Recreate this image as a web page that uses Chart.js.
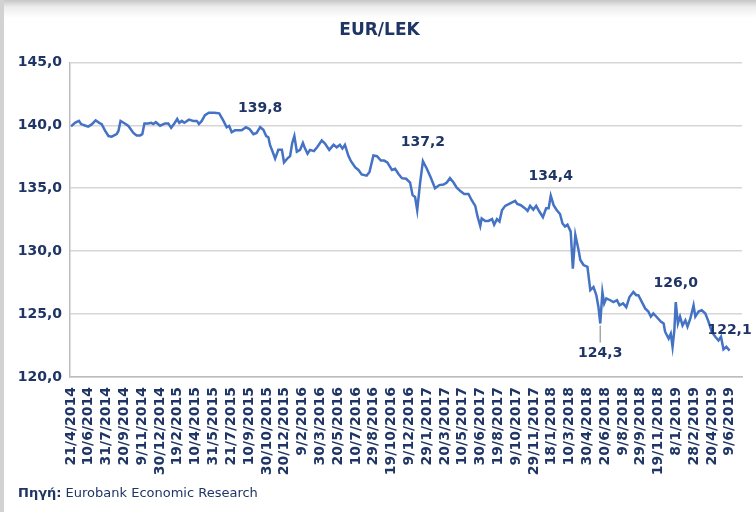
<!DOCTYPE html>
<html>
<head>
<meta charset="utf-8">
<title>EUR/LEK</title>
<script src="https://cdn.jsdelivr.net/npm/chart.js@4.4.1/dist/chart.umd.min.js"></script>
<style>
    html, body {
        margin: 0;
        padding: 0;
        width: 756px;
        height: 512px;
        overflow: hidden;
        background: linear-gradient(to bottom, #c6c6c6 0px, #ededed 7px, #ffffff 18px);
    }
    .frame {
        position: absolute;
        left: 0;
        top: 0;
        width: 756px;
        height: 512px;
        border-left: 4px solid #d2d2d2;
        box-sizing: border-box;
    }
    .chart-box {
        position: absolute;
        left: 0;
        top: 0;
        width: 756px;
        height: 512px;
    }
    .source {
        position: absolute;
        left: 18px;
        top: 485px;
        font-family: 'DejaVu Sans', Verdana, sans-serif;
        font-size: 13px;
        color: #1f3566;
    }
    .source b { font-weight: bold; }
</style>
</head>
<body>
<div class="frame"></div>
<div class="chart-box"><canvas id="eurLekChart"></canvas></div>
<div class="source"><b>Πηγή:</b> Eurobank Economic Research</div>

<script>
// ===== Data (days counted from 21/4/2014) =====
const days = [
    3, 14, 25, 31, 44, 51, 61, 72, 82, 89, 98, 108, 117, 131, 136, 142, 154, 164, 178, 187,
    197, 203, 209, 220, 228, 234, 241, 253, 267, 276, 284, 293, 301, 307, 314, 321, 334, 346, 356, 362,
    370, 379, 390, 405, 419, 431, 440, 447, 454, 463, 473, 482, 494, 504, 515, 524, 534, 543, 551, 557,
    562, 569, 576, 585, 595, 601, 610, 618, 624, 630, 637, 646, 654, 660, 667, 674, 685, 695, 707, 716,
    728, 740, 749, 758, 765, 772, 782, 789, 801, 810, 819, 833, 841, 852, 862, 873, 882, 891, 904, 913,
    922, 932, 944, 955, 962, 969, 975, 983, 991, 1002, 1013, 1025, 1037, 1049, 1058, 1067, 1077, 1086, 1097, 1107,
    1119, 1128, 1138, 1144, 1152, 1156, 1166, 1175, 1185, 1191, 1199, 1206, 1213, 1222, 1236, 1250, 1256, 1266, 1278, 1285,
    1292, 1301, 1309, 1318, 1328, 1337, 1344, 1350, 1358, 1367, 1376, 1383, 1390, 1397, 1406, 1412, 1419, 1428, 1433, 1442,
    1453, 1461, 1470, 1478, 1484, 1489, 1495, 1500, 1506, 1517, 1526, 1536, 1543, 1553, 1562, 1571, 1582, 1590, 1596, 1606,
    1615, 1624, 1631, 1638, 1648, 1659, 1667, 1671, 1681, 1687, 1692, 1697, 1701, 1707, 1713, 1720, 1728, 1734, 1742, 1751,
    1756, 1765, 1774, 1784, 1793, 1802, 1812, 1821, 1828, 1835, 1843, 1852
];

const eurLek = [
    139.92, 140.2, 140.35, 140.1, 139.97, 139.9, 140.07, 140.4, 140.2, 140.1, 139.6, 139.15, 139.1, 139.3, 139.55, 140.35, 140.15, 139.95, 139.4, 139.2,
    139.2, 139.3, 140.15, 140.15, 140.2, 140.1, 140.25, 139.97, 140.15, 140.15, 139.8, 140.15, 140.5, 140.2, 140.35, 140.2, 140.45, 140.35, 140.35, 140.1,
    140.35, 140.8, 141.0, 141.0, 140.95, 140.35, 139.85, 139.95, 139.45, 139.6, 139.6, 139.6, 139.85, 139.7, 139.3, 139.4, 139.85, 139.65, 139.15, 139.05,
    138.4, 137.9, 137.35, 138.05, 138.05, 137.05, 137.35, 137.55, 138.6, 139.15, 137.9, 138.05, 138.6, 138.15, 137.75, 138.05, 137.95, 138.3, 138.8, 138.55,
    138.05, 138.45, 138.25, 138.45, 138.15, 138.45, 137.55, 137.15, 136.65, 136.45, 136.1, 136.0, 136.3, 137.6, 137.55, 137.2, 137.2, 137.05, 136.45, 136.55,
    136.15, 135.8, 135.75, 135.45, 134.45, 134.3, 133.25, 135.4, 137.15, 136.55, 135.85, 135.0, 135.25, 135.3, 135.45, 135.8, 135.45, 135.05, 134.75, 134.55,
    134.55, 134.05, 133.6, 132.8, 132.0, 132.6, 132.4, 132.4, 132.55, 132.1, 132.55, 132.35, 133.25, 133.6, 133.8, 134.0, 133.75, 133.65, 133.4, 133.2,
    133.6, 133.3, 133.6, 133.15, 132.7, 133.4, 133.4, 134.4, 133.65, 133.25, 132.95, 132.2, 131.95, 132.1, 131.55, 128.6, 131.3, 130.1, 129.3, 128.9,
    128.75, 126.9, 127.15, 126.5, 125.55, 124.25, 126.75, 125.85, 126.25, 126.1, 125.95, 126.1, 125.7, 125.85, 125.55, 126.35, 126.75, 126.5, 126.5, 125.95,
    125.45, 125.2, 124.8, 125.05, 124.75, 124.4, 124.25, 123.6, 123.05, 123.45, 122.4, 123.7, 125.95, 124.25, 124.8, 124.1, 124.5, 124.0, 124.65, 125.7,
    124.8, 125.2, 125.3, 125.05, 124.4, 123.6, 123.2, 122.9, 123.2, 122.2, 122.4, 122.1
];

// x tick labels, one every 50 days
const xTickLabels = [
    '21/4/2014', '10/6/2014', '31/7/2014', '20/9/2014', '9/11/2014', '30/12/2014',
    '19/2/2015', '10/4/2015', '31/5/2015', '21/7/2015', '10/9/2015', '30/10/2015', '20/12/2015',
    '9/2/2016', '30/3/2016', '20/5/2016', '10/7/2016', '29/8/2016', '19/10/2016', '9/12/2016',
    '29/1/2017', '20/3/2017', '10/5/2017', '30/6/2017', '19/8/2017', '9/10/2017', '29/11/2017',
    '18/1/2018', '10/3/2018', '30/4/2018', '20/6/2018', '9/8/2018', '29/9/2018', '19/11/2018',
    '8/1/2019', '28/2/2019', '20/4/2019', '9/6/2019'
];

const yTickValues = [120, 125, 130, 135, 140, 145];
const yTickLabels = ['120,0', '125,0', '130,0', '135,0', '140,0', '145,0'];

// labelled points: day, value, text
const markDays = [534, 991, 1350, 1489, 1701, 1852];
const markValues = [139.85, 137.15, 134.4, 124.25, 125.95, 122.1];
const markTexts = ['139,8', '137,2', '134,4', '124,3', '126,0', '122,1'];

// ===== Styles =====
const colors = {
    navy: '#1f3566',
    line: '#4472c4',
    grid: '#d6d6d6',
    axis: '#bdbdbd',
    leader: '#a6a6a6'
};
const fontFamily = "'DejaVu Sans', Verdana, sans-serif";
const markOffsets = [-19, -19, -19, 30, -19, -20];

// ===== Labels plugin (point labels + vertical date labels) =====
const chartLabels = {
    id: 'chartLabels',
    afterDatasetsDraw(chart) {
        const { ctx, scales: { x, y } } = chart;
        ctx.save();
        ctx.font = `bold 14px ${fontFamily}`;
        ctx.fillStyle = colors.navy;
        ctx.textAlign = 'center';
        ctx.textBaseline = 'middle';
        markTexts.forEach((text, i) => {
            const px = x.getPixelForValue(markDays[i]);
            const py = y.getPixelForValue(markValues[i]);
            const off = markOffsets[i];
            if (off > 0) {
                // leader line under the low point
                ctx.strokeStyle = colors.leader;
                ctx.lineWidth = 1.5;
                ctx.beginPath();
                ctx.moveTo(px, py + 2);
                ctx.lineTo(px, py + off - 11);
                ctx.stroke();
            }
            ctx.fillText(text, px, py + off);
        });

        // date labels, rotated, reading upwards
        ctx.textAlign = 'right';
        xTickLabels.forEach((label, i) => {
            const px = x.getPixelForValue(i * 50);
            ctx.save();
            ctx.translate(px + 1, x.top + 10);
            ctx.rotate(-Math.PI / 2);
            ctx.fillText(label, 0, 0);
            ctx.restore();
        });
        ctx.restore();
    }
};

// ===== Chart =====
new Chart(document.getElementById('eurLekChart'), {
    type: 'line',
    data: {
        datasets: [{
            label: 'EUR/LEK',
            data: days.map((d, i) => ({ x: d, y: eurLek[i] })),
            borderColor: colors.line,
            borderWidth: 2.5,
            pointRadius: 0,
            tension: 0,
            fill: false
        }]
    },
    options: {
        responsive: true,
        maintainAspectRatio: false,
        animation: false,
        layout: {
            padding: { left: 17, right: 14, bottom: 35 }
        },
        plugins: {
            legend: { display: false },
            tooltip: { enabled: false },
            title: {
                display: true,
                text: 'EUR/LEK',
                color: colors.navy,
                font: { family: fontFamily, size: 17, weight: 'bold' },
                padding: { top: 20, bottom: 22 }
            }
        },
        scales: {
            x: {
                type: 'linear',
                min: 0,
                max: 1887,
                grid: { display: false },
                border: { display: true, color: colors.axis, width: 1.5 },
                afterBuildTicks: axis => {
                    axis.ticks = xTickLabels.map((_, i) => ({ value: i * 50 }));
                },
                afterFit: axis => { axis.height = 100; },
                ticks: { display: false }
            },
            y: {
                min: 120,
                max: 145,
                afterBuildTicks: axis => {
                    axis.ticks = yTickValues.map(v => ({ value: v }));
                },
                afterFit: axis => { axis.width = 53; },
                grid: { color: colors.grid, lineWidth: 1.5, drawTicks: false },
                border: { display: true, color: colors.axis, width: 1.5 },
                ticks: {
                    padding: 8,
                    color: colors.navy,
                    font: { family: fontFamily, size: 14, weight: 'bold' },
                    callback: value => yTickLabels[yTickValues.indexOf(value)]
                }
            }
        }
    },
    plugins: [chartLabels]
});
</script>
</body>
</html>
